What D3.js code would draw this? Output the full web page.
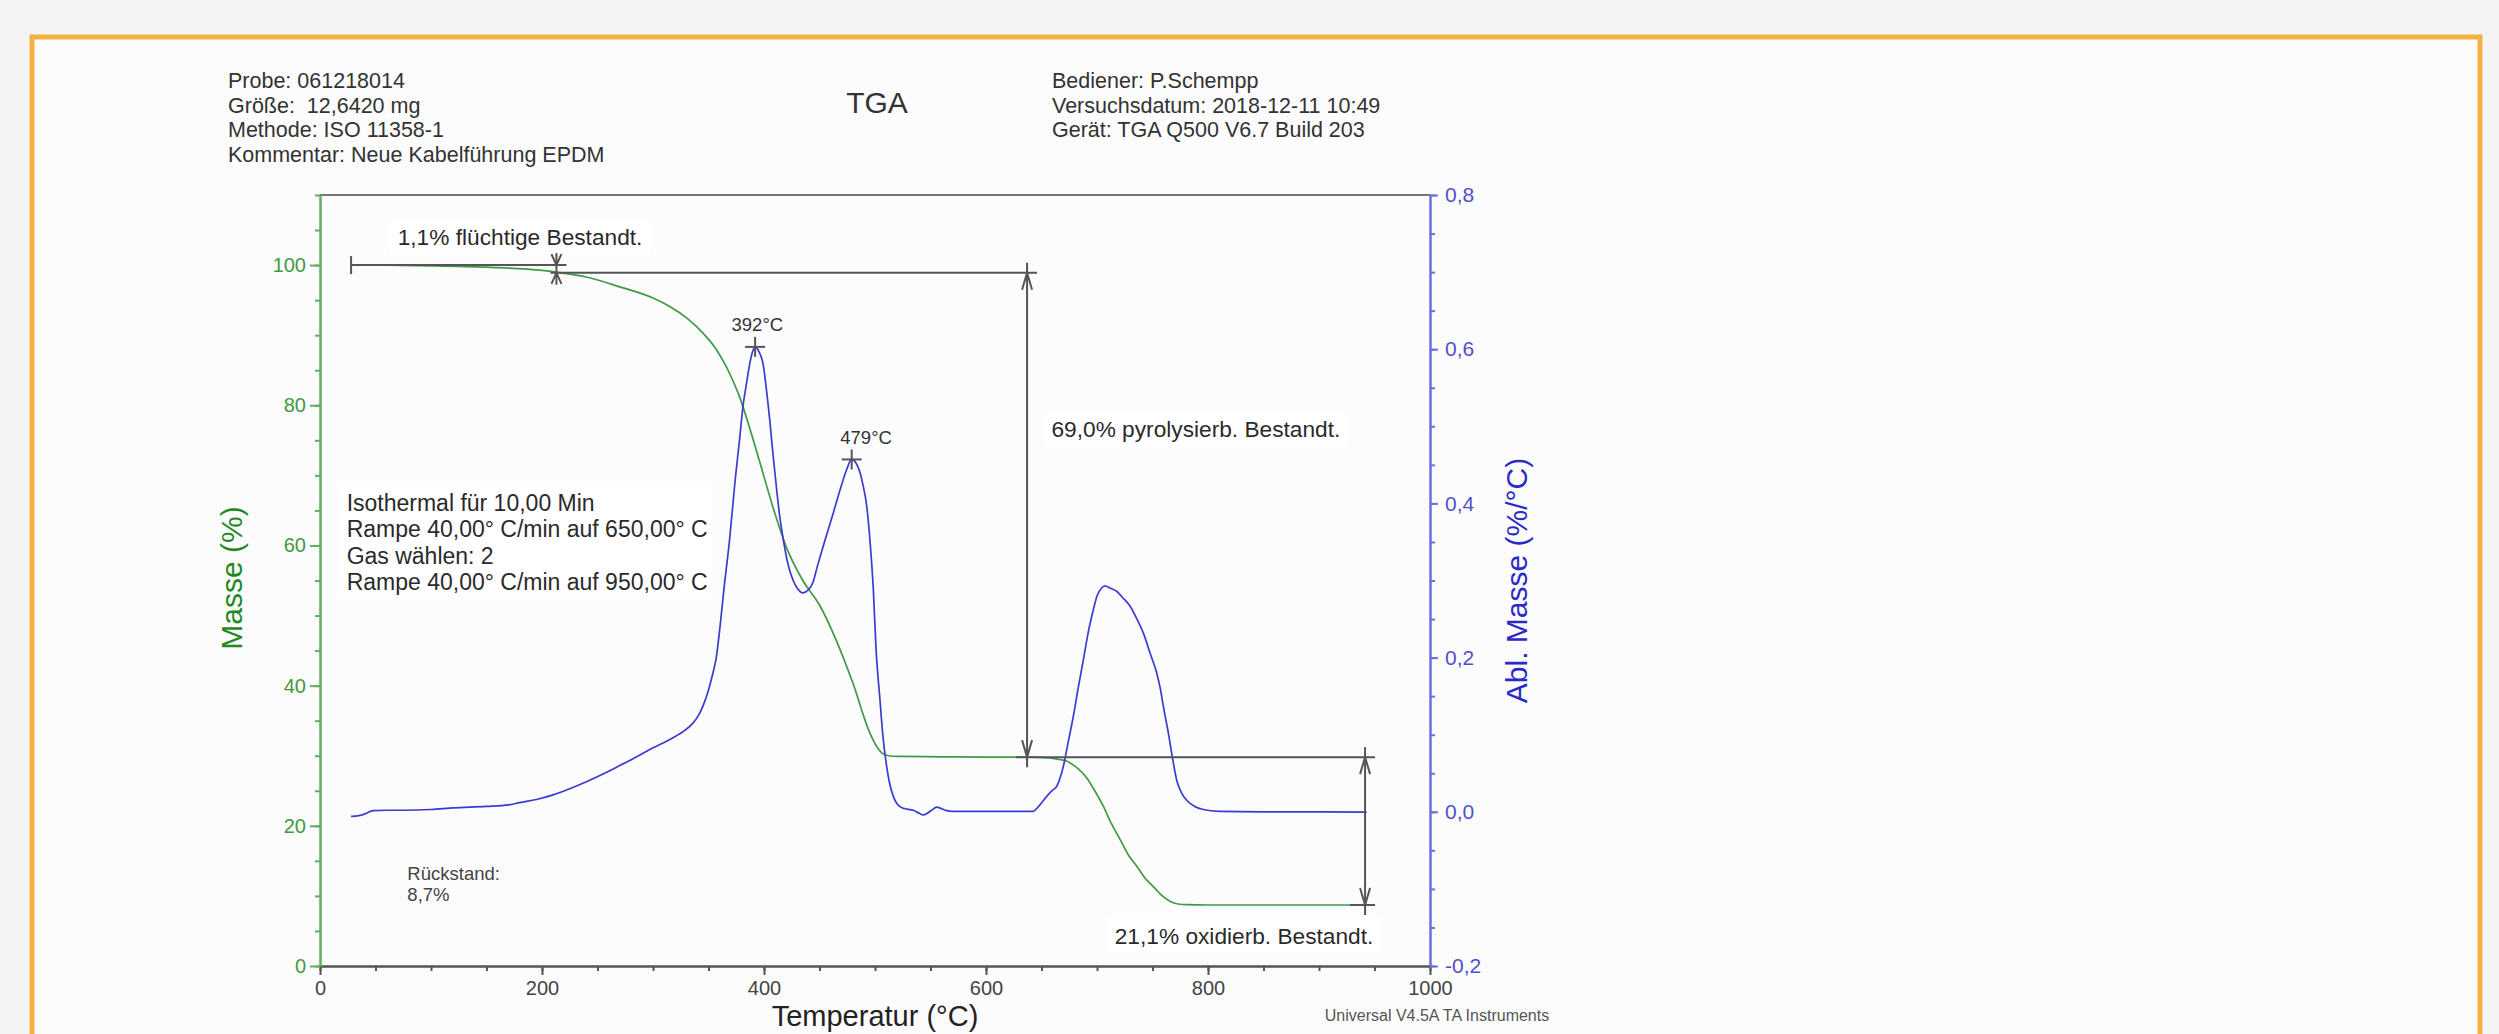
<!DOCTYPE html>
<html><head><meta charset="utf-8">
<script src="https://cdn.jsdelivr.net/npm/d3@7"></script>
<style>
html,body{margin:0;padding:0;background:#f4f4f4;}
svg{display:block;}
text{font-family:"Liberation Sans",Arial,sans-serif;white-space:pre;}
</style></head><body>
<svg id="c" width="2499" height="1034"></svg>
<script>
// ---------- data ----------
const massTemp = [28,60,100,150,200,213,240,270,300,315,330,345,356,366,372,378,387,396,408,420,435,450,465,480,495.5,502,506,512,520,560,600,640,657,665,673,681,691,698,706,713,721,728,736,743,751,758,766,773,781,800,850,900,943];
const massPct  = [100,99.98,99.9,99.7,99.25,99.0,98.3,96.9,95.3,94.1,92.5,90.3,88.2,85.5,83.5,81.2,76.8,72,65.5,59.8,55,51.5,46.5,40.4,33.2,31.2,30.4,30.0,29.9,29.85,29.8,29.8,29.7,29.5,29.2,28.4,26.8,25,22.7,20.3,18,15.9,14.2,12.6,11.3,10.1,9.2,8.85,8.75,8.7,8.7,8.7,8.7];
const dtgTemp = [28,35,40,48,60,75,100,120,150,170,180,195,210,225,240,255,270,285,300,310,318,328,336,341,345,350,354,357,360,364,369,374,378,381,384.4,387,390,392,395,399.4,402,405.4,408,411.4,414,417.4,421,426,430,435,440,444,448,452,457,462.5,468,474.5,479,483,486.5,489,492.5,495,498.5,501,504.5,507,510.5,513,516.5,520,525.5,534.5,540,543.5,547,551,555.5,560,564.5,570,600,642,648,654.7,660,663.7,667,669.7,674,678.7,683,687.7,692,696.7,700,704,707,712,717.7,723,729.7,736,741.7,748,753.8,757,760,764.3,768,771.8,776,780.8,788,795.8,810,850,900,943];
const dtgVal  = [-0.006,-0.005,-0.003,0.0015,0.002,0.002,0.003,0.005,0.007,0.009,0.012,0.016,0.022,0.03,0.039,0.049,0.06,0.071,0.083,0.09,0.096,0.105,0.115,0.125,0.137,0.158,0.18,0.2,0.235,0.29,0.353,0.43,0.483,0.525,0.557,0.58,0.598,0.603,0.598,0.579,0.55,0.505,0.465,0.418,0.385,0.353,0.325,0.301,0.29,0.284,0.288,0.297,0.318,0.338,0.362,0.388,0.415,0.444,0.457,0.452,0.44,0.425,0.397,0.36,0.288,0.21,0.145,0.1,0.059,0.038,0.02,0.01,0.0045,0.002,-0.002,-0.004,-0.002,0.002,0.006,0.004,0.0015,0.0006,0.0006,0.0006,0.008,0.02,0.028,0.033,0.045,0.059,0.09,0.124,0.16,0.197,0.232,0.262,0.28,0.29,0.293,0.29,0.286,0.278,0.267,0.25,0.232,0.205,0.18,0.16,0.135,0.102,0.07,0.041,0.025,0.015,0.007,0.003,0.0006,0.0,0.0,-0.0003];

const xTicks = [0,200,400,600,800,1000];
const massTicks = [0,20,40,60,80,100];
const dtgTicks = [-0.2,0,0.2,0.4,0.6,0.8];

const headerLeft  = ["Probe: 061218014","Größe:  12,6420 mg","Methode: ISO 11358-1","Kommentar: Neue Kabelführung EPDM"];
const headerRight = ["Bediener: P.Schempp","Versuchsdatum: 2018-12-11 10:49","Gerät: TGA Q500 V6.7 Build 203"];
const methodLines = ["Isothermal für 10,00 Min","Rampe 40,00° C/min auf 650,00° C","Gas wählen: 2","Rampe 40,00° C/min auf 950,00° C"];
const residueLines = ["Rückstand:","8,7%"];

const peakTemps  = [392,479];
const peakVals   = [0.603,0.457];
const peakLabels = ["392°C","479°C"];
const peakLabelT = [394,492];
const peakLabelD = [0.624,0.477];

// steps: [temperature of bracket, mass from, mass to]
const stepTemps  = [213,637,941.5];
const stepFrom   = [100,98.9,29.8];
const stepTo     = [98.9,29.8,8.7];
const stepLabels = ["1,1% flüchtige Bestandt.","69,0% pyrolysierb. Bestandt.","21,1% oxidierb. Bestandt."];
const stepLabelT = [70,659,716];
const stepLabelM = [102.9,75.5,3.2];

// ---------- drawing ----------
const svg = d3.select("#c");
const L=320,R=1430,T=195,B=966;
const x  = d3.scaleLinear().domain([0,1000]).range([L,R]);
const yM = d3.scaleLinear().domain([0,110]).range([B,T]);
const yD = d3.scaleLinear().domain([-0.2,0.8]).range([B,T]);

const FONT='"Liberation Sans",Arial,sans-serif';
const ANN="#555", TXT="#2a2a2a";
const GREEN_AX="#5fae5f", GREEN_TX="#3f9a3f", GREEN_C="#3f9a45";
const BLUE_AX="#6e6ee0", BLUE_TX="#5050cc", BLUE_C="#3b3bd0";

// panel
svg.append("rect").attr("x",32).attr("y",37).attr("width",2448).attr("height",1100)
  .attr("fill","#fcfcfc").attr("stroke","#f6b240").attr("stroke-width",5);

// header
svg.append("g").selectAll("text").data(headerLeft).join("text")
  .attr("x",228).attr("y",(d,i)=>88+i*24.7).attr("font-size",21.5).attr("fill","#333").text(d=>d);
svg.append("g").selectAll("text").data(headerRight).join("text")
  .attr("x",1052).attr("y",(d,i)=>88+i*24.7).attr("font-size",21.5).attr("fill","#333").text(d=>d);
svg.append("text").attr("x",877).attr("y",113).attr("text-anchor","middle").attr("font-size",30).attr("fill","#333").text("TGA");

// top frame line
svg.append("line").attr("x1",L).attr("x2",R).attr("y1",T).attr("y2",T).attr("stroke","#777").attr("stroke-width",2);

const comma = f => d => d3.format(f)(d).replace(".",",").replace("\u2212","-");

// bottom axis
const gx = svg.append("g").attr("transform",`translate(0,${B})`);
gx.append("g").call(d3.axisBottom(x).tickValues(d3.range(0,1001,50)).tickSize(5).tickFormat("").tickSizeOuter(0));
gx.append("g").call(d3.axisBottom(x).tickValues(xTicks).tickSize(9).tickPadding(6).tickFormat(d3.format("d")).tickSizeOuter(0));
gx.selectAll("path,line").attr("stroke","#555").attr("stroke-width",2);
gx.selectAll("text").attr("font-size",20).attr("fill","#444").attr("font-family",FONT);

// left axis
const gl = svg.append("g").attr("transform",`translate(${L},0)`);
gl.append("g").call(d3.axisLeft(yM).tickValues(d3.range(0,111,5)).tickSize(5).tickFormat("").tickSizeOuter(0));
gl.append("g").call(d3.axisLeft(yM).tickValues(massTicks).tickSize(10).tickPadding(4).tickFormat(d3.format("d")).tickSizeOuter(0));
gl.selectAll("path,line").attr("stroke",GREEN_AX).attr("stroke-width",2);
gl.selectAll("text").attr("font-size",20).attr("fill",GREEN_TX).attr("font-family",FONT);

// right axis
const gr = svg.append("g").attr("transform",`translate(${R},0)`);
gr.append("g").call(d3.axisRight(yD).tickValues(d3.range(-4,17,1).map(v=>v*0.05)).tickSize(5).tickFormat("").tickSizeOuter(0));
gr.append("g").call(d3.axisRight(yD).tickValues(dtgTicks).tickSize(8).tickPadding(7).tickFormat(comma(".1f")).tickSizeOuter(0));
gr.selectAll("path,line").attr("stroke",BLUE_AX).attr("stroke-width",2);
gr.selectAll("text").attr("font-size",21).attr("fill",BLUE_TX).attr("font-family",FONT);

// axis titles
svg.append("text").attr("transform",`translate(242,578) rotate(-90)`).attr("text-anchor","middle")
  .attr("font-size",30).attr("fill","#1f8a22").text("Masse (%)");
svg.append("text").attr("transform",`translate(1527,${(T+B)/2}) rotate(-90)`).attr("text-anchor","middle")
  .attr("font-size",30).attr("fill","#2a2ac8").text("Abl. Masse (%/°C)");
svg.append("text").attr("x",(L+R)/2).attr("y",1026).attr("text-anchor","middle")
  .attr("font-size",29).attr("fill","#222").text("Temperatur (°C)");
svg.append("text").attr("x",1437).attr("y",1021).attr("text-anchor","middle")
  .attr("font-size",16).attr("fill","#555").text("Universal V4.5A TA Instruments");

// label boxes
function boxedText(g, tx, ty, str, fs, anchor){
  const t = g.append("text").attr("x",tx).attr("y",ty).attr("font-size",fs).attr("fill",TXT)
    .attr("text-anchor",anchor||"start").text(str);
  const bb = t.node().getBBox();
  g.insert("rect","text").attr("x",bb.x-8).attr("y",bb.y-4).attr("width",bb.width+16).attr("height",bb.height+8).attr("fill","#ffffff");
  return t;
}

// method block
const gm = svg.append("g");
gm.append("rect").attr("x",x(16)).attr("y",yM(69)).attr("width",374).attr("height",112).attr("fill","#fff");
gm.selectAll("text").data(methodLines).join("text").attr("x",x(24)).attr("y",(d,i)=>yM(64.95)+i*26.5)
  .attr("font-size",23).attr("fill",TXT).text(d=>d);

// residue
svg.append("g").selectAll("text").data(residueLines).join("text").attr("x",x(78.7)).attr("y",(d,i)=>yM(12.3)+i*21.5)
  .attr("font-size",18.5).attr("fill","#444").text(d=>d);

// step labels
stepLabels.forEach((s,i)=>{ boxedText(svg.append("g"), x(stepLabelT[i]), yM(stepLabelM[i]), s, 22.7); });

// curves
const massData = massTemp.map((t,i)=>[t,massPct[i]]);
const dtgData  = dtgTemp.map((t,i)=>[t,dtgVal[i]]);
svg.append("path").datum(massData).attr("fill","none").attr("stroke",GREEN_C).attr("stroke-width",1.7)
  .attr("d",d3.line().x(d=>x(d[0])).y(d=>yM(d[1])).curve(d3.curveMonotoneX));
svg.append("path").datum(dtgData).attr("fill","none").attr("stroke",BLUE_C).attr("stroke-width",1.7)
  .attr("d",d3.line().x(d=>x(d[0])).y(d=>yD(d[1])).curve(d3.curveMonotoneX));

// annotations
const ga = svg.append("g").attr("stroke",ANN).attr("stroke-width",2).attr("fill","none");
function seg(x1,y1,x2,y2){ ga.append("line").attr("x1",x1).attr("y1",y1).attr("x2",x2).attr("y2",y2); }
function arrow(px,py,dir,len){ // dir -1: pointing up, +1 pointing down
  const l=len||17;
  ga.append("path").attr("d",d3.line()([[px-5,py-dir*l],[px,py],[px+5,py-dir*l]]));
}
// step 1 (volatile)
const s1x = x(stepTemps[0]);
seg(x(28), yM(100), s1x+10, yM(100));
seg(x(28), yM(100)-9, x(28), yM(100)+9);
seg(s1x-6, yM(98.9), x(stepTemps[1])+10, yM(98.9));
seg(s1x, yM(100)-12, s1x, yM(98.9)+12);
arrow(s1x, yM(100), 1, 11);
arrow(s1x, yM(98.9), -1, 11);
// step 2 (pyrolysis)
const s2x = x(stepTemps[1]);
seg(s2x, yM(stepFrom[1])-10, s2x, yM(stepTo[1])+10);
arrow(s2x, yM(stepFrom[1]), -1);
arrow(s2x, yM(stepTo[1]), 1);
seg(x(627), yM(29.8), x(950.5), yM(29.8));
// step 3 (oxidation)
const s3x = x(stepTemps[2]);
seg(s3x, yM(stepFrom[2])-10, s3x, yM(stepTo[2])+10);
arrow(s3x, yM(stepFrom[2]), -1);
arrow(s3x, yM(stepTo[2]), 1);
seg(x(928), yM(8.7), x(950.5), yM(8.7));

// peaks
peakTemps.forEach((t,i)=>{
  const px=x(t), py=yD(peakVals[i]);
  seg(px-10,py,px+10,py); seg(px,py-10,px,py+10);
  svg.append("text").attr("x",x(peakLabelT[i])).attr("y",yD(peakLabelD[i])).attr("text-anchor","middle")
    .attr("font-size",18.5).attr("fill","#333").text(peakLabels[i]);
});
</script>
</body></html>
